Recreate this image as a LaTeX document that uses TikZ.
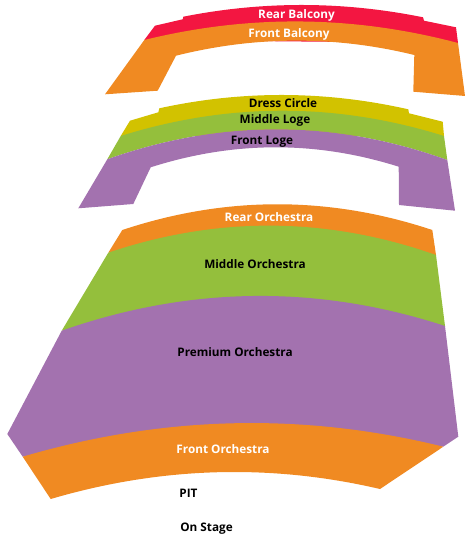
\documentclass[tikz,border=0pt]{standalone}
\usepackage{fontspec}
\setmainfont{Open Sans}
\definecolor{seatorange}{HTML}{F08A22}
\definecolor{seatred}{HTML}{F31641}
\definecolor{seatyellow}{HTML}{D2C200}
\definecolor{seatgreen}{HTML}{94BF3C}
\definecolor{seatpurple}{HTML}{A372AF}
\tikzset{
  darklabel/.style={font=\fontsize{11.8}{13}\selectfont\bfseries,text=black,inner sep=0pt},
  lightlabel/.style={darklabel,text=white},
}

\begin{document}
\begin{tikzpicture}[x=1bp,y=-1bp]
\useasboundingbox (0,0) rectangle (465,534);

% balcony
\fill[seatred] (144.3,40) -- (155,25.7) -- (182.7,19.3) -- (183.3,16.7)
  .. controls (263,0.9) and (343,1.1) .. (423,17.3)
  -- (424,20.7) -- (456,27.3) -- (458,43) -- cycle;
\fill[seatorange] (144.3,40) .. controls (248.8,14.3) and (353.3,15.3) .. (458,43)
  -- (465,96) -- (413.3,91.7) -- (414.3,55)
  .. controls (334.9,35.6) and (255.4,35.9) .. (176,55.7)
  -- (157.7,90.7) -- (105,94.3) -- cycle;

% loge
\fill[seatyellow] (120.7,136) -- (130,120.7) -- (158.3,112.3) -- (159.3,108.3)
  .. controls (242.3,90.2) and (325.3,90.6) .. (408.3,109.3)
  -- (409,113.3) -- (442.7,121.7) -- (444,136) -- cycle;
\fill[seatgreen] (120.7,136) .. controls (228.5,102.3) and (336.2,102.3) .. (444,136)
  -- (447.3,160) .. controls (334,119.4) and (220.6,119.1) .. (107.3,159.3) -- cycle;
\fill[seatpurple] (107.3,159.3) .. controls (220.6,119.1) and (334,119.4) .. (447.3,160)
  -- (455,210.7) -- (399,205) -- (398.7,166.7)
  .. controls (316,140.6) and (233.4,140.9) .. (150.7,167.3)
  -- (133.3,204) -- (78.3,208.3) -- cycle;

% orchestra
\fill[seatorange] (108.3,252.7) -- (122.3,230)
  .. controls (225.6,195.7) and (329,195.7) .. (432.3,230)
  -- (436,255) -- cycle;
\fill[seatgreen] (108.3,252.7) .. controls (217.5,215.9) and (326.8,216.6) .. (436,255)
  -- (445,326) -- (61.7,330.7) -- cycle;
\fill[seatpurple] (61.7,330.7) .. controls (189.5,286) and (317.2,284.4) .. (445,326)
  -- (458.3,436.7) -- (443.3,446.7) -- (22.7,456.7) -- (7.3,434) -- cycle;
\fill[seatorange] (22.7,456.7) .. controls (162.9,415.5) and (303.1,412.1) .. (443.3,446.7)
  -- (380,489) .. controls (270.2,463.4) and (160.5,466.7) .. (50.7,499) -- cycle;

\node[lightlabel] (rearbalcony) at (296.5,15) {Rear Balcony};
\node[lightlabel] (frontbalcony) at (289,34.5) {Front Balcony};
\node[darklabel] (dresscircle) at (283,103.5) {Dress Circle};
\node[darklabel] (middleloge) at (275,120.5) {Middle Loge};
\node[darklabel] (frontloge) at (262,141.5) {Front Loge};
\node[lightlabel] (rearorch) at (269,217.5) {Rear Orchestra};
\node[darklabel] (middleorch) at (255,264.5) {Middle Orchestra};
\node[darklabel] (premiumorch) at (235,352.5) {Premium Orchestra};
\node[lightlabel] (frontorch) at (223,449.5) {Front Orchestra};
\node[darklabel] (pit) at (188.5,493) {PIT};
\node[darklabel] (onstage) at (206.5,528.5) {On Stage};
\end{tikzpicture}
\end{document}
